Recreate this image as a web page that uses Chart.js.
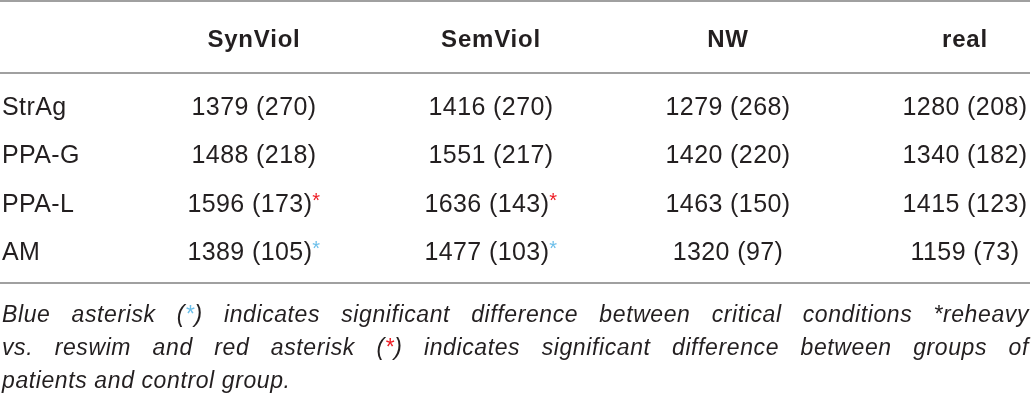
<!DOCTYPE html>
<html>
<head>
<meta charset="utf-8">
<script src="https://cdn.jsdelivr.net/npm/chart.js@4"></script>
<style>
  html, body { margin: 0; padding: 0; background: #fff; }
  #wrap { position: relative; width: 1032px; height: 403px; }
  #note {
    position: absolute; left: 2px; top: 298px; width: 1027px;
    font-family: "Liberation Sans", Arial, sans-serif; font-style: italic;
    font-size: 23px; line-height: 33px; color: #231f20; letter-spacing: 0.6px;
  }
  #note .ln { text-align: justify; text-align-last: justify; white-space: nowrap; }
  #note .ln.last { text-align-last: left; }
  #note .b { color: #6cbfea; }
  #note .r { color: #ee1c24; }
</style>
</head>
<body>
<div id="wrap">
  <canvas id="tabella"></canvas>
  <div id="note">
    <div class="ln">Blue asterisk (<span class="b">*</span>) indicates significant difference between critical conditions *reheavy</div>
    <div class="ln">vs. reswim and red asterisk (<span class="r">*</span>) indicates significant difference between groups of</div>
    <div class="ln last">patients and control group.</div>
  </div>
</div>
<script>
// righe e colonne della tabella
const gruppi = ['StrAg', 'PPA-G', 'PPA-L', 'AM'];
const condizioni = ['SynViol', 'SemViol', 'NW', 'real'];

// media (deviazione standard) per condizione
const synViolMedia = [1379, 1488, 1596, 1389];
const synViolDs = [270, 218, 173, 105];
const semViolMedia = [1416, 1551, 1636, 1477];
const semViolDs = [270, 217, 143, 103];
const nwMedia = [1279, 1420, 1463, 1320];
const nwDs = [268, 220, 150, 97];
const realMedia = [1280, 1340, 1415, 1159];
const realDs = [208, 182, 123, 73];

// asterischi: 'g' = gruppi vs controllo (rosso), 'c' = condizioni (blu)
const synViolSig = ['', '', 'g', 'c'];
const semViolSig = ['', '', 'g', 'c'];
const nwSig = ['', '', '', ''];
const realSig = ['', '', '', ''];

const TESTO = '#231f20';
const LINEA = '#808080';
const FONT = '"Liberation Sans", Arial, sans-serif';

const colonne = [
    { media: synViolMedia, ds: synViolDs, sig: synViolSig },
    { media: semViolMedia, ds: semViolDs, sig: semViolSig },
    { media: nwMedia, ds: nwDs, sig: nwSig },
    { media: realMedia, ds: realDs, sig: realSig }
];

const datasets = colonne.map((col, i) => ({
    label: condizioni[i],
    data: gruppi.map(g => ({ x: condizioni[i], y: g })),
    pointRadius: 0,
    pointHoverRadius: 0,
    celle: col
}));

// spaziatura lettere per avvicinare il font originale
const spaziatura = {
    id: 'spaziatura',
    beforeDraw(chart) {
        chart.ctx.letterSpacing = '0.4px';
    }
};

// testo delle celle, intestazioni e righe orizzontali
const tabella = {
    id: 'tabella',
    afterDatasetsDraw(chart) {
        const ctx = chart.ctx;
        const area = chart.chartArea;
        const xScale = chart.scales.x;

        ctx.save();
        // righe
        ctx.strokeStyle = LINEA;
        ctx.lineWidth = 1.5;
        [1, area.top - 35, area.bottom + 30].forEach(y => {
            ctx.beginPath();
            ctx.moveTo(0, y);
            ctx.lineTo(chart.width - 2, y);
            ctx.stroke();
        });

        // intestazioni
        ctx.fillStyle = TESTO;
        ctx.font = 'bold 24px ' + FONT;
        ctx.letterSpacing = '0.8px';
        ctx.textAlign = 'center';
        ctx.textBaseline = 'middle';
        condizioni.forEach((c, i) => {
            ctx.fillText(c, xScale.getPixelForValue(i), area.top - 68);
        });

        // celle
        ctx.letterSpacing = '0.4px';
        ctx.textAlign = 'left';
        chart.data.datasets.forEach((ds, di) => {
            const meta = chart.getDatasetMeta(di);
            meta.data.forEach((pt, j) => {
                const testo = ds.celle.media[j] + ' (' + ds.celle.ds[j] + ')';
                const sig = ds.celle.sig[j];
                ctx.font = '25px ' + FONT;
                const w = ctx.measureText(testo).width;
                ctx.font = '20px ' + FONT;
                const wa = sig ? ctx.measureText('*').width : 0;
                const x0 = pt.x - (w + wa) / 2;
                ctx.font = '25px ' + FONT;
                ctx.fillStyle = TESTO;
                ctx.textBaseline = 'middle';
                ctx.fillText(testo, x0, pt.y);
                if (sig) {
                    ctx.font = '20px ' + FONT;
                    ctx.fillStyle = sig === 'g' ? '#ee1c24' : '#6cbfea';
                    ctx.textBaseline = 'alphabetic';
                    ctx.fillText('*', x0 + w, pt.y + 2);
                }
            });
        });
        ctx.restore();
    }
};

new Chart(document.getElementById('tabella').getContext('2d'), {
    type: 'scatter',
    data: { datasets: datasets },
    options: {
        responsive: true,
        maintainAspectRatio: false,
        animation: false,
        events: [],
        layout: { padding: { left: 2, right: 67, top: 108, bottom: 150 } },
        plugins: {
            legend: { display: false },
            tooltip: { enabled: false }
        },
        scales: {
            x: {
                type: 'category',
                labels: condizioni,
                offset: false,
                display: false
            },
            y: {
                type: 'category',
                labels: gruppi,
                offset: false,
                grid: { display: false, drawTicks: false },
                border: { display: false },
                ticks: {
                    crossAlign: 'far',
                    color: TESTO,
                    font: { family: FONT, size: 25 }
                },
                afterFit(scale) { scale.width = 252; }
            }
        }
    },
    plugins: [spaziatura, tabella]
});
</script>
</body>
</html>
